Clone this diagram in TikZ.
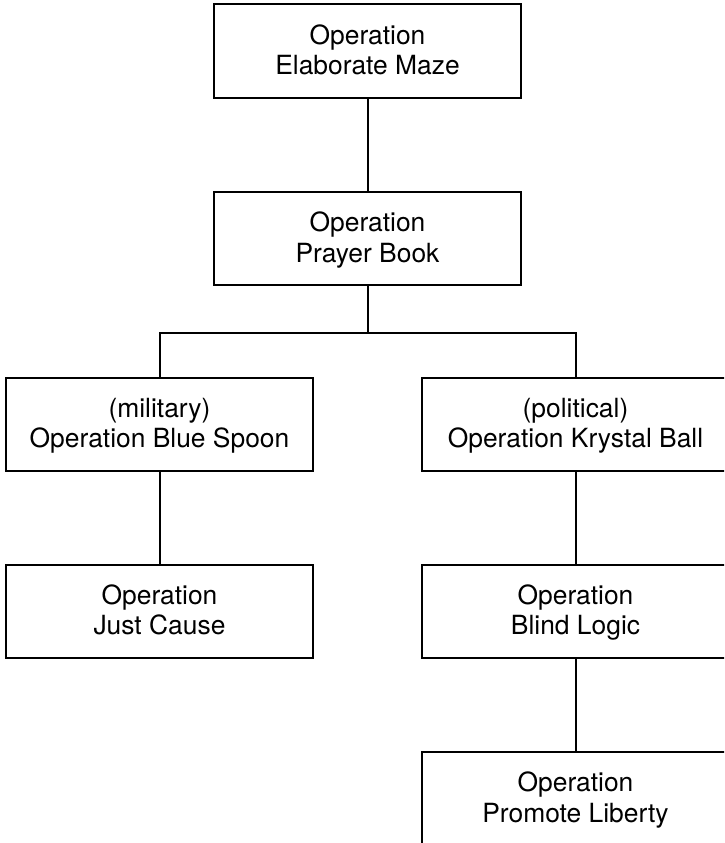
\documentclass[tikz,border=0pt]{standalone}
\usepackage{fontspec}
\setmainfont{TeX Gyre Heros}
\newcommand{\lnstrut}{\rule[-6pt]{0pt}{29pt}}
\begin{document}
\begin{tikzpicture}[x=1pt,y=-1pt,
  opbox/.style={draw=black, line width=2pt, fill=white, minimum width=307pt, minimum height=93pt,
    inner sep=0pt, align=center, font=\fontsize{26.4}{30.5}\selectfont},
  link/.style={draw=black, line width=2pt}]
\useasboundingbox (0,0) rectangle (724,843);
\clip (0,0) rectangle (724,843);
\fill[white] (0,0) rectangle (724,843);
\node[opbox] (b1) at (367.5,51) {\lnstrut Operation\\\lnstrut Elaborate Maze};
\node[opbox] (b2) at (367.5,238.5) {\lnstrut Operation\\\lnstrut Prayer Book};
\node[opbox] (b3) at (159.5,424) {\lnstrut (military)\\\lnstrut Operation Blue Spoon};
\node[opbox] (b4) at (575.5,424) {\lnstrut (political)\\\lnstrut Operation Krystal Ball};
\node[opbox] (b5) at (159.5,611) {\lnstrut Operation\\\lnstrut Just Cause};
\node[opbox] (b6) at (575.5,611) {\lnstrut Operation\\\lnstrut Blind Logic};
\node[opbox] (b7) at (575.5,798.5) {\lnstrut Operation\\\lnstrut Promote Liberty};
\draw[link] (b1.south) -- (b2.north);
\draw[link] (b2.south) -- ++(0,46.5) coordinate (j);
\draw[link] (j) -| (b3.north);
\draw[link] (j) -| (b4.north);
\draw[link] (b3.south) -- (b5.north);
\draw[link] (b4.south) -- (b6.north);
\draw[link] (b6.south) -- (b7.north);
\end{tikzpicture}
\end{document}
